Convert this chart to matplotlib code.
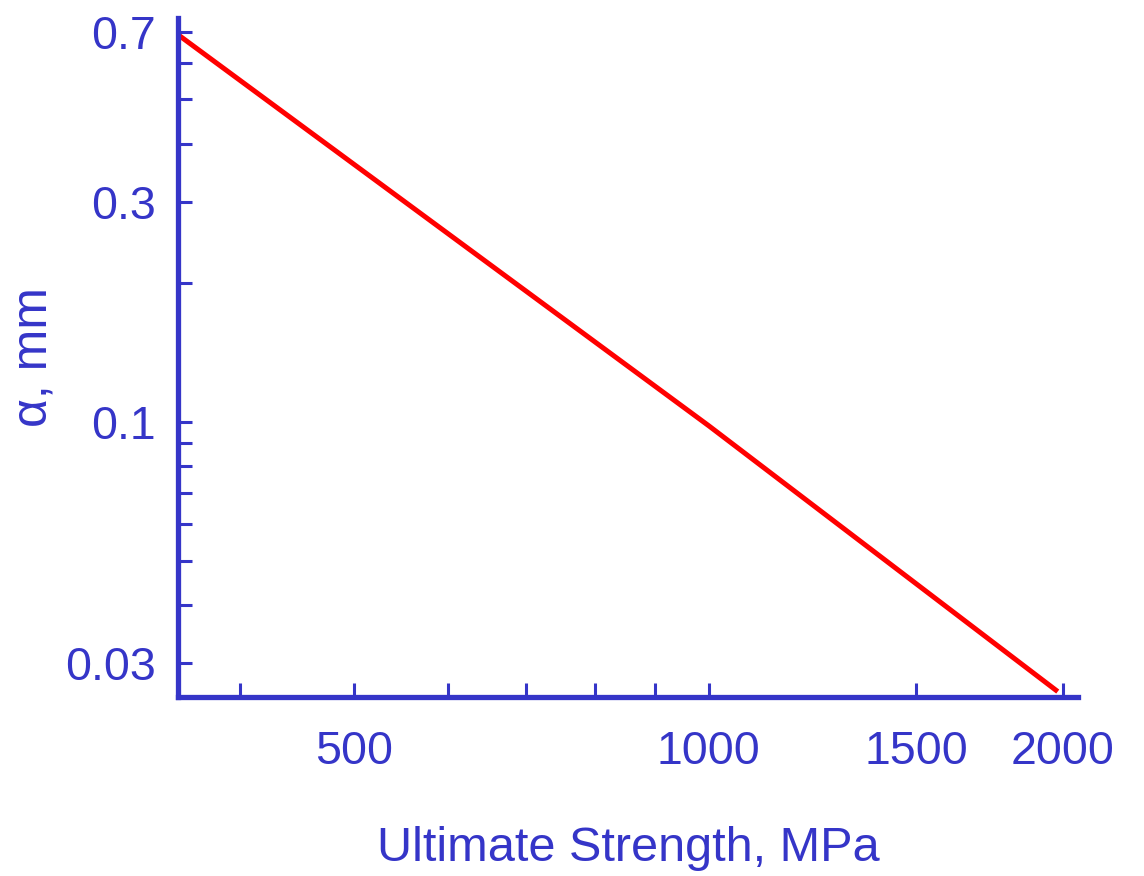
import matplotlib
matplotlib.use('Agg')
import matplotlib.pyplot as plt
from matplotlib.ticker import FixedLocator, FixedFormatter, NullLocator

# data (log-log)
strength = [354, 1000, 1980]
alpha = [0.69, 0.098, 0.026]

x_ticks = [400, 500, 600, 700, 800, 900, 1000, 1500, 2000]
x_labels = ['', '500', '', '', '', '', '1000', '1500', '2000']
y_ticks = [0.03, 0.04, 0.05, 0.06, 0.07, 0.08, 0.09, 0.1,
           0.2, 0.3, 0.4, 0.5, 0.6, 0.7]
y_labels = ['0.03', '', '', '', '', '', '', '0.1',
            '', '0.3', '', '', '', '0.7']

blue = '#3535c8'
plt.rcParams['font.family'] = ['Liberation Sans', 'DejaVu Sans']

fig = plt.figure(figsize=(11.44, 8.76), dpi=100)
ax = fig.add_axes([0.1556, 0.2043, 0.7867, 0.7752])

ax.plot(strength, alpha, color='#ff0000', linewidth=3.6, solid_capstyle='butt')

ax.set_xscale('log')
ax.set_yscale('log')
ax.set_xlim(354, 2060)
ax.set_ylim(0.0253, 0.75)

ax.xaxis.set_major_locator(FixedLocator(x_ticks))
ax.xaxis.set_major_formatter(FixedFormatter(x_labels))
ax.xaxis.set_minor_locator(NullLocator())
ax.yaxis.set_major_locator(FixedLocator(y_ticks))
ax.yaxis.set_major_formatter(FixedFormatter(y_labels))
ax.yaxis.set_minor_locator(NullLocator())

for side in ['top', 'right']:
    ax.spines[side].set_visible(False)
for side in ['left', 'bottom']:
    ax.spines[side].set_color(blue)
    ax.spines[side].set_linewidth(3.8)

ax.tick_params(axis='both', direction='in', length=10, width=2.2,
               color=blue, labelcolor=blue, labelsize=33.5)
ax.tick_params(axis='y', pad=16)
ax.tick_params(axis='x', pad=24)

ax.set_xlabel('Ultimate Strength, MPa', color=blue, fontsize=35, labelpad=37)
ax.set_ylabel('α, mm', color=blue, fontsize=36, labelpad=6)

fig.savefig('out.png', dpi=100, facecolor='white')
